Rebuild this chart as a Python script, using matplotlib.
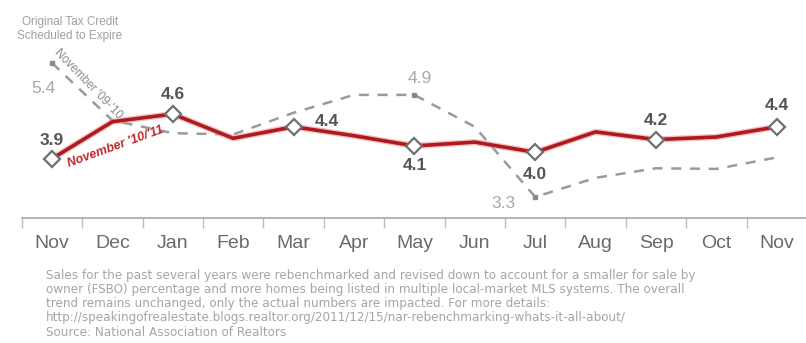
import matplotlib.pyplot as plt
import numpy as np

months = ["Nov", "Dec", "Jan", "Feb", "Mar", "Apr", "May",
          "Jun", "Jul", "Aug", "Sep", "Oct", "Nov"]

# November '10/'11 (red line)
sales_10_11 = [3.9, 4.48, 4.6, 4.22, 4.4, 4.26, 4.1, 4.16, 4.0, 4.32, 4.2, 4.24, 4.4]
labeled_10_11 = [0, 2, 4, 6, 8, 10, 12]

# November '09-'10 (gray dashed line)
sales_09_10 = [5.4, 4.5, 4.3, 4.28, 4.62, 4.9, 4.9, 4.4, 3.3, 3.6, 3.75, 3.74, 3.92]
labeled_09_10 = [0, 6, 8]

footnote = [
    "Sales for the past several years were rebenchmarked and revised down to account for a smaller for sale by",
    "owner (FSBO) percentage and more homes being listed in multiple local-market MLS systems. The overall",
    "trend remains unchanged, only the actual numbers are impacted. For more details:",
    "http://speakingofrealestate.blogs.realtor.org/2011/12/15/nar-rebenchmarking-whats-it-all-about/",
    "Source: National Association of Realtors",
]

plt.rcParams["font.family"] = ["Liberation Sans", "DejaVu Sans"]

W, H = 806, 343
fig = plt.figure(figsize=(W / 100, H / 100), dpi=100)
ax = fig.add_axes([21.8 / W, (H - 218) / H, (807 - 21.8) / W, 218 / H])

x = np.arange(len(months))

# dashed prior-year line
ax.plot(x, sales_09_10, color="#9a9a9a", lw=1.8, dashes=(4, 3.5), zorder=2)
ax.plot(x[labeled_09_10], np.array(sales_09_10)[labeled_09_10], "s",
        color="#8a8a8a", ms=3.5, zorder=3)

# red current line with a soft glow
ax.plot(x, sales_10_11, color="#e89a9a", lw=4.5, alpha=0.6, zorder=4,
        solid_joinstyle="round")
ax.plot(x, sales_10_11, color="#b01a1e", lw=2.6, zorder=5,
        solid_joinstyle="round")
ax.plot(x[labeled_10_11], np.array(sales_10_11)[labeled_10_11], "D",
        mfc="white", mec="#6f6f6f", mew=1.6, ms=8.5, zorder=6)

# value labels (offsets in points)
red_offsets = {0: (0, 13), 2: (0, 14), 4: (24, 4), 6: (0, -14),
               8: (0, -16), 10: (0, 14), 12: (0, 15)}
for i in labeled_10_11:
    dx, dy = red_offsets[i]
    ax.annotate(f"{sales_10_11[i]:.1f}", (x[i], sales_10_11[i]),
                xytext=(dx, dy), textcoords="offset points",
                ha="center", va="center", fontsize=12.5,
                fontweight="bold", color="#555555", zorder=7)

gray_offsets = {0: (-6, -18), 6: (4, 12), 8: (-23, -5)}
for i in labeled_09_10:
    dx, dy = gray_offsets[i]
    ax.annotate(f"{sales_09_10[i]:.1f}", (x[i], sales_09_10[i]),
                xytext=(dx, dy), textcoords="offset points",
                ha="center", va="center", fontsize=12.5,
                color="#a8a8a8", zorder=7)

# series captions along the lines
fig.text(88 / W, 1 - 84 / H, "November '09-'10", rotation=-46,
         ha="center", va="center", fontsize=8.5, color="#8a8a8a")
fig.text(116 / W, 1 - 147 / H, "November '10/'11", rotation=20,
         ha="center", va="center", fontsize=9, color="#c0272d",
         fontweight="bold", fontstyle="italic")
fig.text(70 / W, 1 - 29 / H, "Original Tax Credit\nScheduled to Expire",
         ha="center", va="center", fontsize=8.5, color="#a0a0a0",
         linespacing=1.3)

ax.set_xlim(-0.5, 12.5)
ax.set_ylim(5.4 - 155 / 63.8, 5.4 + 63 / 63.8)

for s in ["top", "right", "left"]:
    ax.spines[s].set_visible(False)
ax.spines["bottom"].set_color("#a8a8a8")
ax.spines["bottom"].set_linewidth(1.2)
ax.set_yticks([])
ax.set_xticks(np.arange(-0.5, 13, 1))
ax.set_xticklabels([])
ax.set_xticks(x, minor=True)
ax.set_xticklabels(months, minor=True, fontsize=14, color="#6a6a6a")
ax.tick_params(axis="x", which="major", length=7, width=1, color="#bdbdbd")
ax.tick_params(axis="x", which="minor", length=0, pad=12)

for k, line in enumerate(footnote):
    fig.text(46 / W, 1 - (275 + k * 14.3) / H, line, ha="left", va="center",
             fontsize=8.65, color="#a5a5a5", family="DejaVu Sans")

fig.savefig("out.png", dpi=100, facecolor="white")
